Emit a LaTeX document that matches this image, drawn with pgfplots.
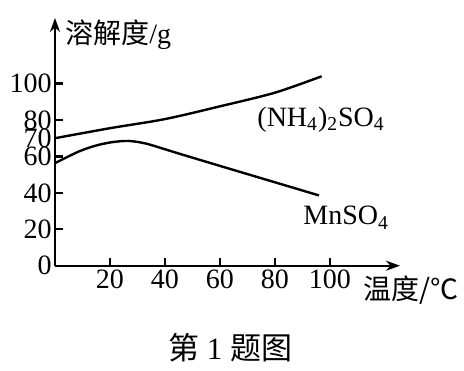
\documentclass[border=0pt]{standalone}
\usepackage{fontspec}
\setmainfont{Liberation Serif}
\newfontfamily\cjk{Noto Sans CJK SC}
\usepackage{pgfplots}
\pgfplotsset{compat=1.18}
\usetikzlibrary{arrows.meta}
\begin{document}
\begin{tikzpicture}
\useasboundingbox (-27.5pt,-52.15pt) rectangle (204.5pt,132.85pt);
\begin{axis}[
  scale only axis, width=172.5pt, height=123.85pt,
  xmin=0, xmax=125.5, ymin=0, ymax=136,
  axis lines=left,
  axis line style={line width=1.2pt, -{Stealth[length=7pt,width=5pt]}},
  xtick={20,40,60,80,100}, ytick={0,20,40,60,80,100},
  extra y ticks={70}, extra y tick style={major tick length=0pt},
  tick align=inside, major tick length=4pt,
  tick style={line width=1.2pt, black},
  ticklabel style={font=\fontsize{14}{16}\selectfont},
  yticklabel style={inner sep=1.5pt},
  xticklabel style={inner sep=2pt},
  /pgf/number format/assume math mode=true,
  clip=false,
]
\addplot[black, line width=1.2pt, smooth] coordinates {
  (0,70) (20,75.5) (40,80.5) (60,87.5) (80,95) (97,104)
};
\addplot[black, line width=1.2pt, smooth] coordinates {
  (0,56.3) (8.5,62.6) (14.5,65.8) (20.6,67.8) (26.7,68.5) (32.7,67.2)
  (38.8,64.5) (45,61.6) (60,54.8) (80,45.8) (96,38.6)
};
\node[anchor=base west, inner sep=0, font=\fontsize{14}{16}\selectfont] at (axis cs:73.5,76.4) {(NH\textsubscript{4})\textsubscript{2}SO\textsubscript{4}};
\node[anchor=base west, inner sep=0, font=\fontsize{14}{16}\selectfont] at (axis cs:90.2,22.4) {MnSO\textsubscript{4}};
\node[anchor=west, inner sep=0, font=\fontsize{14}{16}\selectfont] at (axis cs:3.6,126.8) {{\cjk 溶解度}/g};
\node[anchor=west, inner sep=0, font=\fontsize{14}{16}\selectfont] at (axis cs:112,-13.4) {{\cjk 温度/℃}};
\end{axis}
\node[font=\fontsize{15.5}{18}\selectfont] at (87.5pt,-41pt) {{\cjk 第} 1 {\cjk 题图}};
\end{tikzpicture}
\end{document}
